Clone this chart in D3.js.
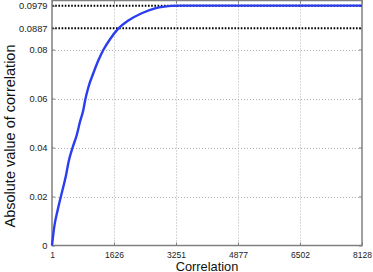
<!DOCTYPE html>
<html><head><meta charset="utf-8">
<script src="https://cdn.jsdelivr.net/npm/d3@7"></script>
<style>body{margin:0;background:#fff}svg{display:block;font-family:"Liberation Sans",Arial,sans-serif}</style>
</head><body><svg id="c" width="373" height="272"></svg>
<script>
const xIndex = [1, 61, 150, 237, 360, 447, 544, 648, 735, 822, 866, 953, 1084, 1215, 1346, 1522, 1739, 2001, 2353, 2701, 2950, 3139, 3400, 4000, 5000, 6000, 7000, 8128];
const corrValue = [0, 0.0077, 0.0145, 0.0202, 0.0281, 0.0349, 0.0401, 0.0450, 0.0505, 0.0553, 0.0590, 0.0645, 0.0703, 0.0755, 0.0798, 0.0842, 0.0885, 0.0918, 0.0948, 0.0968, 0.0975, 0.0978, 0.0979, 0.0979, 0.0979, 0.0979, 0.0979, 0.0979];
const xTicks = [1, 1626, 3251, 4877, 6502, 8128];
const yTicks = [0, 0.02, 0.04, 0.06, 0.08, 0.0887, 0.0979];
const yTickLabels = ["0", "0.02", "0.04", "0.06", "0.08", "0.0887", "0.0979"];
const refLines = [0.0887, 0.0979];

const svg = d3.select("#c");
const L = 52, R = 362, T = 0.5, B = 245.5;
const x = d3.scaleLinear().domain([1, 8128]).range([L, R]);
const y = d3.scaleLinear().domain([0, 0.1]).range([B, T]);

// grid
const g = svg.append("g");
g.selectAll(".gx").data(xTicks.slice(1, -1)).join("line")
  .attr("x1", d => Math.round(x(d)) + 0.5).attr("x2", d => Math.round(x(d)) + 0.5)
  .attr("y1", T).attr("y2", B)
  .attr("stroke", "#b0b0b0").attr("stroke-width", 1).attr("stroke-dasharray", "1,2");
g.selectAll(".gy").data([0.02, 0.04, 0.06, 0.08]).join("line")
  .attr("x1", L).attr("x2", R)
  .attr("y1", d => Math.round(y(d)) + 0.5).attr("y2", d => Math.round(y(d)) + 0.5)
  .attr("stroke", "#b0b0b0").attr("stroke-width", 1).attr("stroke-dasharray", "1,2");

// axes
const xAxis = d3.axisBottom(x).tickValues(xTicks).tickFormat(d3.format("d")).tickSize(-3).tickPadding(6);
const yAxis = d3.axisLeft(y).tickValues(yTicks).tickFormat((d, i) => yTickLabels[i]).tickSize(-3).tickPadding(4);
const gx = svg.append("g").attr("transform", `translate(0,${B})`).call(xAxis);
const gy = svg.append("g").attr("transform", `translate(${L},0)`).call(yAxis);
[gx, gy].forEach(a => {
  a.select(".domain").remove();
  a.selectAll(".tick line").attr("stroke", "#808080");
  a.selectAll("text").attr("fill", "#222").attr("font-family", "Liberation Sans, Arial, sans-serif");
});
gx.selectAll("text").attr("font-size", 8.5);
gy.selectAll("text").attr("font-size", 9.3).attr("dx", "-0.5");
// top/right ticks
svg.append("g").attr("transform", `translate(0,${T})`)
  .call(d3.axisTop(x).tickValues(xTicks).tickSize(-3).tickFormat(""))
  .call(a => { a.select(".domain").remove(); a.selectAll("line").attr("stroke", "#808080"); });
svg.append("g").attr("transform", `translate(${R},0)`)
  .call(d3.axisRight(y).tickValues(yTicks).tickSize(-3).tickFormat(""))
  .call(a => { a.select(".domain").remove(); a.selectAll("line").attr("stroke", "#808080"); });

// reference dotted lines
svg.selectAll(".ref").data(refLines).join("line")
  .attr("x1", L).attr("x2", R)
  .attr("y1", d => y(d)).attr("y2", d => y(d))
  .attr("stroke", "#000").attr("stroke-width", 2).attr("stroke-dasharray", "1.6,1.6");

// box
svg.append("rect").attr("x", L).attr("y", T).attr("width", R - L).attr("height", B - T)
  .attr("fill", "none").attr("stroke", "#808080").attr("stroke-width", 1.5);

// curve
const pts = xIndex.map((d, i) => [d, corrValue[i]]);
svg.append("path").datum(pts)
  .attr("d", d3.line().x(d => x(d[0])).y(d => y(d[1])).curve(d3.curveMonotoneX))
  .attr("fill", "none").attr("stroke", "#2a3ef0").attr("stroke-width", 2.4);

// labels
svg.append("text").attr("x", 207).attr("y", 270.5).attr("text-anchor", "middle")
  .attr("font-size", 12.8).attr("fill", "#111").text("Correlation");
svg.append("text").attr("transform", "translate(15,136) rotate(-90)").attr("text-anchor", "middle")
  .attr("font-size", 14.5).attr("fill", "#111").text("Absolute value of correlation");
</script></body></html>
